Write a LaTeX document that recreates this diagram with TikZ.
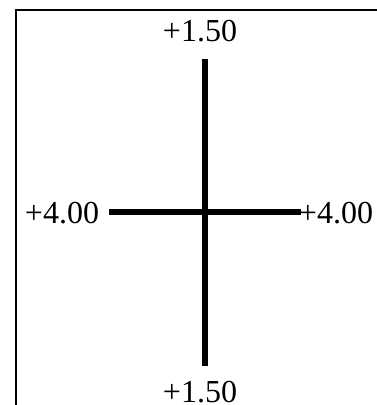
\documentclass[tikz,border=0pt]{standalone}
\usepackage{fontspec}
\setmainfont{Liberation Serif}
\begin{document}
\begin{tikzpicture}[x=1pt,y=-1pt,
  lbl/.style={inner sep=0pt, anchor=base, font=\fontsize{32}{38}\selectfont},
  bar/.style={line width=6pt, line cap=butt},
  frame/.style={line width=2pt}]
\useasboundingbox (0,0) rectangle (377,405);
% frame (left and top edges only)
\coordinate (fbl) at (16.3,405);
\coordinate (ftl) at (16.3,10);
\coordinate (ftr) at (377,10);
\draw[frame] (fbl) -- (ftl) -- (ftr);
% cross
\coordinate (vt) at (205,59);
\coordinate (vb) at (205,366);
\coordinate (hl) at (109,212);
\coordinate (hr) at (301,212);
\draw[bar] (vt) -- (vb);
\draw[bar] (hl) -- (hr);
% labels
\node[lbl] (top) at (200,41) {+1.50};
\node[lbl] (bot) at (200,402.5) {+1.50};
\node[lbl] (left) at (62,223) {+4.00};
\node[lbl] (right) at (336,223) {+4.00};
\end{tikzpicture}
\end{document}
